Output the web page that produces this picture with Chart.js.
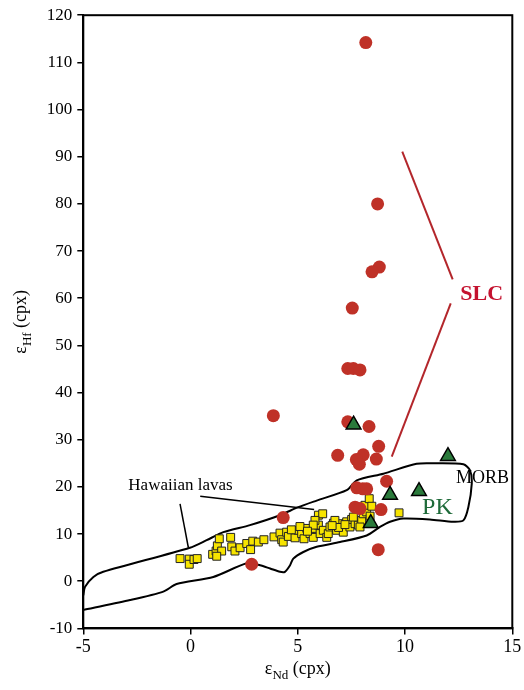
<!DOCTYPE html>
<html>
<head>
<meta charset="utf-8">
<script src="https://cdn.jsdelivr.net/npm/chart.js@4.4.1/dist/chart.umd.min.js"></script>
<style>
  html, body { margin: 0; padding: 0; background: #fff; }
</style>
</head>
<body>
<canvas id="chart" width="524" height="690"></canvas>
<script>
// tick values
const xTickVals = [-5, 0, 5, 10, 15];
const yTickVals = [-10, 0, 10, 20, 30, 40, 50, 60, 70, 80, 90, 100, 110, 120];

// SLC clinopyroxenes (red circles)
const slcNd = [8.17, 8.72, 8.80, 8.46, 7.54, 7.33, 7.59, 7.90, 3.86, 7.33, 8.32, 8.77, 6.86, 8.05, 7.73, 7.87, 8.66, 9.14, 7.75, 8.03, 8.21, 7.67, 7.90, 8.88, 4.32, 8.75, 2.85];
const slcHf = [114.2, 80.0, 66.6, 65.6, 57.9, 45.1, 45.1, 44.8, 35.1, 33.8, 32.8, 28.6, 26.7, 26.8, 25.8, 24.8, 25.9, 21.2, 19.8, 19.6, 19.6, 15.7, 15.4, 15.2, 13.5, 6.7, 3.6];

// PK (green triangles)
const pkNd = [7.6, 12.0, 9.3, 10.65, 8.4];
const pkHf = [33.2, 26.5, 18.3, 19.1, 12.3];

// Hawaiian lavas (yellow squares)
const hawNd = [-0.49, -0.06, -0.06, 0.16, 0.31, 1.03, 1.19, 1.25, 1.34, 1.45, 1.22, 1.87, 1.92, 2.07, 2.31, 2.62, 2.80, 2.90, 3.16, 3.42,
               3.89, 4.17, 4.25, 4.32, 4.48, 4.56, 4.87, 5.02, 5.18, 5.29, 5.42, 5.57, 5.72, 5.80, 5.96, 6.04, 6.19, 6.35, 6.42, 6.50,
               6.66, 6.81, 6.97, 7.12, 7.28, 7.43, 7.51, 7.67, 7.82, 7.98, 8.05, 8.21, 8.13, 8.33, 5.96, 6.16, 9.72, 8.37, 5.80, 5.72,
               6.73, 7.90, 8.45, 7.59, 4.70, 5.10, 6.90, 7.20, 5.45, 6.60];
const hawHf = [4.8, 4.7, 3.6, 4.6, 4.8, 5.7, 6.4, 7.5, 9.0, 6.4, 5.3, 9.3, 7.3, 6.4, 7.1, 8.0, 6.7, 8.5, 8.3, 8.8,
               9.4, 10.2, 8.8, 8.3, 10.4, 9.5, 9.2, 10.8, 10.1, 9.0, 11.2, 10.1, 9.3, 11.2, 11.9, 10.1, 10.8, 9.3, 10.1, 11.5,
               12.3, 10.8, 12.2, 10.4, 12.6, 11.5, 13.1, 12.2, 11.9, 12.9, 14.3, 14.7, 16.1, 17.5, 14.0, 14.3, 14.5, 13.8, 12.9, 11.9,
               12.9, 11.5, 15.9, 13.6, 10.9, 11.6, 11.4, 12.0, 10.6, 11.8];

// MORB field outline
const morbNd = [-5, -4.92, -4.53, -4.07, -0.03, 0.75, 1.53, 2.77, 4.17, 5.02, 5.88, 7.28, 7.75, 8.99, 10.54, 11.32, 12.72, 13.03, 13.11, 12.95,
                12.72, 12.25, 11.16, 9.92, 9.30, 8.83, 8.21, 6.97, 5.88, 5.26, 4.79, 4.64, 4.40, 4.17, 3.71, 3.24, 2.62, 1.06, -0.65, -1.27,
                -2.82, -4.92, -5];
const morbHf = [-3.0, -1.2, 0.9, 2.0, 7.1, 8.7, 10.4, 11.9, 14.0, 15.7, 17.1, 19.3, 21.4, 22.8, 24.9, 25.0, 24.8, 23.5, 20.7, 15.7,
                12.9, 12.6, 13.1, 13.3, 12.6, 11.5, 9.7, 8.3, 7.3, 6.2, 4.8, 3.4, 2.0, 2.0, 2.7, 3.4, 3.8, 0.9, -0.6, -2.2,
                -4.0, -6.0, -6.1];

// leader lines
const slcLeadUpNd = [9.87, 12.22], slcLeadUpHf = [91.1, 64.0];
const slcLeadDnNd = [12.13, 9.38], slcLeadDnHf = [58.9, 26.4];
const hawLeadANd = [0.45, 5.76], hawLeadAHf = [18.0, 15.2];
const hawLeadBNd = [-0.49, -0.10], hawLeadBHf = [16.4, 7.1];

const pts = (xs, ys) => xs.map((x, i) => ({ x: x, y: ys[i] }));

const SERIF = "'Liberation Serif', 'Times New Roman', serif";
const RED = '#bf3127';
const GREEN = '#2a7a3b';

function line(xs, ys, color, width, order) {
    return {
        data: pts(xs, ys), showLine: true, pointRadius: 0, pointHoverRadius: 0,
        borderColor: color, borderWidth: width, fill: false, order: order
    };
}

// text labels placed in data units
const notes = [
    { text: 'SLC', x: 13.57, y: 60.8, font: 'bold 22px ' + SERIF, color: '#c4122f' },
    { text: 'PK', x: 11.51, y: 15.5, font: '24px ' + SERIF, color: '#1f6b3a' },
    { text: 'MORB', x: 13.61, y: 21.8, font: '18px ' + SERIF, color: '#000' },
    { text: 'Hawaiian lavas', x: -0.47, y: 20.2, font: '17px ' + SERIF, color: '#000' }
];

function drawSubTitle(ctx, main, sub, rest, x, y) {
    const big = '18px ' + SERIF, small = '13px ' + SERIF;
    ctx.font = big; const w1 = ctx.measureText(main).width;
    ctx.font = small; const w2 = ctx.measureText(sub).width;
    ctx.font = big; const w3 = ctx.measureText(rest).width;
    let cx = x - (w1 + w2 + w3) / 2;
    ctx.textAlign = 'left';
    ctx.textBaseline = 'alphabetic';
    ctx.font = big; ctx.fillText(main, cx, y); cx += w1;
    ctx.font = small; ctx.fillText(sub, cx, y + 5); cx += w2;
    ctx.font = big; ctx.fillText(rest, cx, y);
}

const decor = {
    id: 'decor',
    afterDraw(chart) {
        const { ctx, chartArea: a, scales } = chart;
        ctx.save();
        ctx.strokeStyle = '#000';
        ctx.lineWidth = 2;
        ctx.strokeRect(a.left, a.top, a.right - a.left, a.bottom - a.top);

        ctx.textAlign = 'center';
        ctx.textBaseline = 'middle';
        notes.forEach(n => {
            ctx.font = n.font;
            ctx.fillStyle = n.color;
            ctx.fillText(n.text, scales.x.getPixelForValue(n.x), scales.y.getPixelForValue(n.y));
        });

        ctx.fillStyle = '#000';
        drawSubTitle(ctx, 'ε', 'Nd', ' (cpx)', (a.left + a.right) / 2, 674);
        ctx.translate(26, (a.top + a.bottom) / 2);
        ctx.rotate(-Math.PI / 2);
        drawSubTitle(ctx, 'ε', 'Hf', ' (cpx)', 0, 0);
        ctx.restore();
    }
};

new Chart(document.getElementById('chart'), {
    type: 'scatter',
    data: {
        datasets: [
            { data: pts(pkNd, pkHf), pointStyle: 'triangle', pointRadius: 8.5, backgroundColor: GREEN, borderColor: '#000', borderWidth: 1.5, order: 1 },
            { data: pts(slcNd, slcHf), pointStyle: 'circle', pointRadius: 6.5, backgroundColor: RED, borderWidth: 0, order: 2 },
            { data: pts(hawNd, hawHf), pointStyle: 'rect', pointRadius: 5.6, backgroundColor: '#f7e400', borderColor: '#222', borderWidth: 1, order: 3 },
            Object.assign(line(morbNd, morbHf, '#000', 2, 4), { tension: 0.25 }),
            line(slcLeadUpNd, slcLeadUpHf, '#b3262b', 2, 5),
            line(slcLeadDnNd, slcLeadDnHf, '#b3262b', 2, 5),
            line(hawLeadANd, hawLeadAHf, '#000', 1.5, 5),
            line(hawLeadBNd, hawLeadBHf, '#000', 1.5, 5)
        ]
    },
    options: {
        responsive: false,
        animation: false,
        devicePixelRatio: 1,
        layout: { padding: { top: 13.5, right: 11.7, left: 0, bottom: 0 } },
        plugins: { legend: { display: false }, tooltip: { enabled: false } },
        scales: {
            x: {
                type: 'linear', min: -5, max: 15,
                afterBuildTicks: s => { s.ticks = xTickVals.map(v => ({ value: v })); },
                afterFit: s => { s.height = 61.6; },
                ticks: { color: '#000', font: { family: SERIF, size: 18 }, padding: 2, maxRotation: 0 },
                grid: { drawOnChartArea: false, drawTicks: true, tickLength: 6, color: '#000', lineWidth: 1.5 },
                border: { display: true, color: '#000', width: 2 }
            },
            y: {
                type: 'linear', min: -10, max: 120,
                afterBuildTicks: s => { s.ticks = yTickVals.map(v => ({ value: v })); },
                afterFit: s => { s.width = 83.3; },
                ticks: { color: '#000', font: { family: SERIF, size: 17 }, padding: 5 },
                grid: { drawOnChartArea: false, drawTicks: true, tickLength: 6, color: '#000', lineWidth: 1.5 },
                border: { display: true, color: '#000', width: 2 }
            }
        }
    },
    plugins: [decor]
});
</script>
</body>
</html>
